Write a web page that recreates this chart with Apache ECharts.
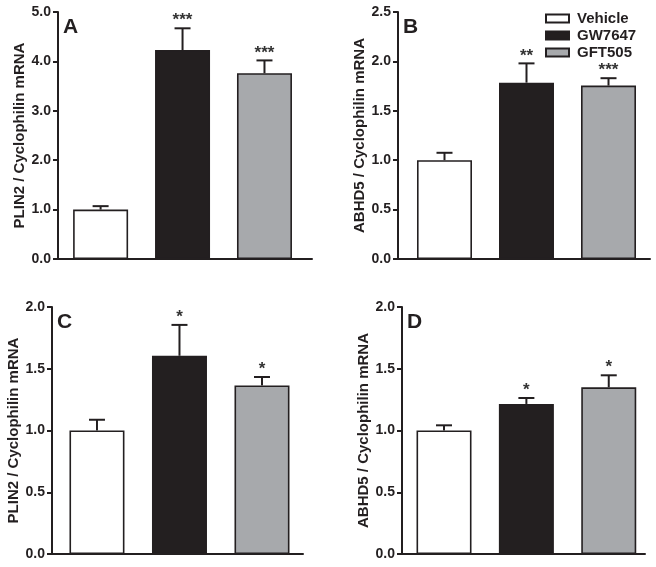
<!DOCTYPE html>
<html>
<head>
<meta charset="utf-8">
<script src="https://cdn.jsdelivr.net/npm/echarts@6/dist/echarts.min.js"></script>
<style>
html,body{margin:0;padding:0;background:#fff;}
#main{width:656px;height:567px;}
</style>
</head>
<body>
<div id="main"></div>
<script>
// ---- data ----
const groups = ['Vehicle', 'GW7647', 'GFT505'];
const panelLetters = ['A', 'B', 'C', 'D'];
const yNames = ['PLIN2 / Cyclophilin mRNA', 'ABHD5 / Cyclophilin mRNA', 'PLIN2 / Cyclophilin mRNA', 'ABHD5 / Cyclophilin mRNA'];
const meansA = [1.00, 4.23, 3.76];
const errA   = [0.07, 0.44, 0.26];
const sigA   = ['', '***', '***'];
const meansB = [1.00, 1.785, 1.755];
const errB   = [0.075, 0.195, 0.075];
const sigB   = ['', '**', '***'];
const meansC = [1.00, 1.605, 1.365];
const errC   = [0.087, 0.25, 0.068];
const sigC   = ['', '*', '*'];
const meansD = [1.00, 1.215, 1.35];
const errD   = [0.042, 0.048, 0.097];
const sigD   = ['', '*', '*'];
const yMax      = [5.0, 2.5, 2.0, 2.0];
const yInterval = [1.0, 0.5, 0.5, 0.5];

const means = [meansA, meansB, meansC, meansD];
const errs  = [errA, errB, errC, errD];
const sigs  = [sigA, sigB, sigC, sigD];

// ---- layout / style ----
const FONT = '"Liberation Sans", Arial, sans-serif';
const INK = '#231f20';
const fills = ['#ffffff', '#231f20', '#a7a9ac'];
const grids = [
  {left: 58,  top: 12,  width: 254, height: 247, xmin: -0.52,  xmax: 2.58},
  {left: 398, top: 12,  width: 252, height: 247, xmin: -0.567, xmax: 2.506},
  {left: 52,  top: 307, width: 251, height: 247, xmin: -0.545, xmax: 2.497},
  {left: 402, top: 307, width: 243, height: 247, xmin: -0.51,  xmax: 2.44}
];

const chart = echarts.init(document.getElementById('main'), null, {renderer: 'canvas'});

const option = {
  backgroundColor: '#fff',
  animation: false,
  grid: grids.map(g => ({left: g.left, top: g.top, width: g.width, height: g.height, containLabel: false, outerBoundsMode: 'none'})),
  xAxis: grids.map((g, i) => ({
    type: 'value', gridIndex: i, min: g.xmin, max: g.xmax,
    axisLine: {show: true, onZero: false, lineStyle: {color: INK, width: 2}},
    axisTick: {show: false}, axisLabel: {show: false}, splitLine: {show: false}
  })),
  yAxis: grids.map((g, i) => ({
    type: 'value', gridIndex: i, min: 0, max: yMax[i], interval: yInterval[i],
    name: yNames[i], nameLocation: 'middle', nameGap: 31, nameRotate: 90,
    nameTextStyle: {fontFamily: FONT, fontSize: 15, fontWeight: 'bold', color: INK},
    axisLine: {show: true, onZero: false, lineStyle: {color: INK, width: 2}},
    axisTick: {show: true, length: 5, lineStyle: {color: INK, width: 2}},
    axisLabel: {fontFamily: FONT, fontSize: 14, fontWeight: 'bold', color: INK, margin: 7,
      formatter: v => v.toFixed(1)},
    splitLine: {show: false}
  })),
  legend: {
    orient: 'vertical', left: 540, top: 6,
    itemWidth: 23, itemHeight: 8, itemGap: 2,
    icon: 'rect',
    data: groups,
    textStyle: {fontFamily: FONT, fontSize: 15, fontWeight: 'bold', color: INK, padding: [0, 0, 0, 3]}
  },
  graphic: panelLetters.map((L, i) => ({
    type: 'text', left: grids[i].left + 5, top: grids[i].top + 5,
    style: {text: L, font: 'bold 21px ' + FONT, fill: INK}
  })),
  series: []
};

for (let p = 0; p < 4; p++) {
  groups.forEach((g, k) => {
    option.series.push({
      type: 'bar', name: g, xAxisIndex: p, yAxisIndex: p,
      barWidth: 55, barGap: '-100%',
      itemStyle: {color: fills[k], borderColor: INK, borderWidth: 1.6},
      data: [[k, means[p][k]]],
      z: 2
    });
  });
  const sg = sigs[p];
  option.series.push({
    type: 'custom', xAxisIndex: p, yAxisIndex: p, z: 5,
    data: means[p].map((m, k) => [k, m, errs[p][k]]),
    renderItem: function (params, api) {
      const x = api.value(0), m = api.value(1), e = api.value(2);
      const p0 = api.coord([x, m]);
      const p1 = api.coord([x, m + e]);
      const st = {stroke: INK, lineWidth: 2};
      return {
        type: 'group',
        children: [
          {type: 'line', shape: {x1: p0[0], y1: p0[1], x2: p1[0], y2: p1[1]}, style: st},
          {type: 'line', shape: {x1: p1[0] - 8, y1: p1[1], x2: p1[0] + 8, y2: p1[1]}, style: st},
          {type: 'text', x: p1[0], y: p1[1] + 1,
            style: {text: sg[params.dataIndex], textAlign: 'center', textVerticalAlign: 'bottom',
              font: 'bold 17px ' + FONT, fill: '#333'}}
        ]
      };
    }
  });
}

chart.setOption(option);
</script>
</body>
</html>
